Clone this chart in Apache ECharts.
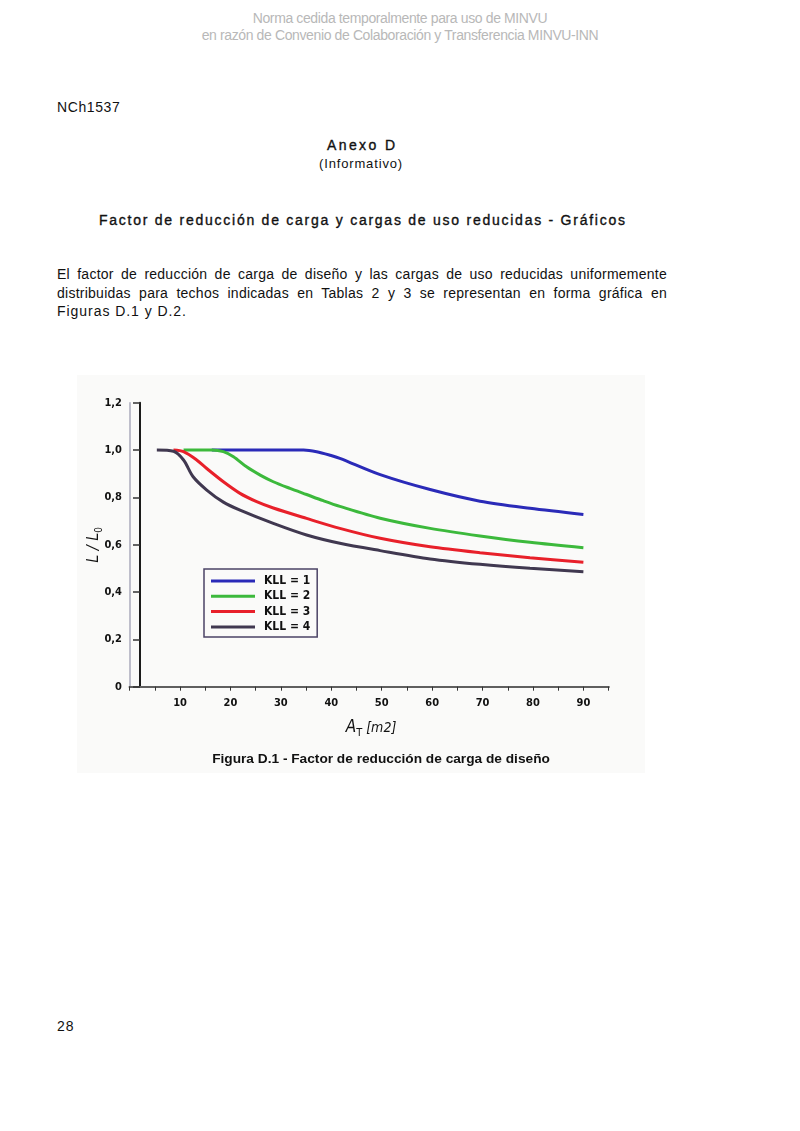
<!DOCTYPE html>
<html>
<head>
<meta charset="utf-8">
<script src="https://cdn.jsdelivr.net/npm/echarts@6/dist/echarts.min.js"></script>
<style>
  html, body { margin: 0; padding: 0; background: #fff; }
  body { width: 800px; height: 1131px; position: relative; overflow: hidden; font-family: "Liberation Sans", Arial, sans-serif; color: #111; }
  .t { position: absolute; white-space: nowrap; }
  .wm { left: 0; width: 800px; text-align: center; color: #b8b8b8; font-size: 14px; letter-spacing: -0.38px; }
  .med { -webkit-text-stroke: 0.35px #111; }
  .pl { position: absolute; left: 57px; width: 610px; font-size: 14px; letter-spacing: 0.95px; white-space: nowrap; }
  .just { letter-spacing: 0.25px; text-align: justify; text-align-last: justify; white-space: normal; }
  #chart { position: absolute; left: 0; top: 0; width: 800px; height: 1131px; }
</style>
</head>
<body>
<div class="t wm" style="top:10px">Norma cedida temporalmente para uso de MINVU</div>
<div class="t wm" style="top:27px">en razón de Convenio de Colaboración y Transferencia MINVU-INN</div>
<div class="t" style="left:57px; top:99px; font-size:14px; letter-spacing:0.6px;">NCh1537</div>
<div class="t med" style="left:327px; top:137px; font-size:14px; letter-spacing:2.4px;">Anexo D</div>
<div class="t" style="left:319px; top:156px; font-size:13px; letter-spacing:0.85px;">(Informativo)</div>
<div class="t med" style="left:99px; top:212px; font-size:14px; letter-spacing:1.75px;">Factor de reducción de carga y cargas de uso reducidas - Gráficos</div>
<div class="pl just" style="top:266px">El factor de reducción de carga de diseño y las cargas de uso reducidas uniformemente</div>
<div class="pl just" style="top:285px">distribuidas para techos indicadas en Tablas 2 y 3 se representan en forma gráfica en</div>
<div class="pl" style="top:303px">Figuras D.1 y D.2.</div>
<div class="t" style="left:57px; top:1018px; font-size:14px; letter-spacing:1px;">28</div>
<div id="chart"></div>
<script>
// values: [A_T (m2), L/L0]
const kll1 = [[16.3, 1.0], [34.5, 1.0], [37.1, 0.993], [39.8, 0.978], [41.7, 0.965], [49.7, 0.896], [59.6, 0.833], [69.5, 0.784], [79.4, 0.754], [90, 0.728]];
const kll2 = [[10.7, 1.0], [16.3, 1.0], [18.6, 0.993], [20.6, 0.972], [23.2, 0.929], [25.9, 0.894], [28.5, 0.866], [31.8, 0.838], [35.1, 0.812], [38.4, 0.786], [41.7, 0.762], [49.7, 0.712], [59.6, 0.669], [69.5, 0.637], [79.4, 0.61], [90, 0.587]];
const kll3 = [[8.7, 1.0], [10.7, 0.993], [13.3, 0.958], [15.3, 0.922], [18.6, 0.866], [21.9, 0.817], [25.2, 0.782], [28.5, 0.755], [35.1, 0.711], [41.7, 0.669], [49.7, 0.627], [59.6, 0.591], [69.5, 0.566], [79.4, 0.545], [90, 0.526]];
const kll4 = [[5.4, 1.0], [8.7, 0.995], [10.7, 0.958], [12.6, 0.887], [15.3, 0.831], [18.6, 0.78], [21.9, 0.746], [28.5, 0.69], [35.1, 0.641], [41.7, 0.606], [49.7, 0.575], [59.6, 0.54], [69.5, 0.517], [79.4, 0.5], [90, 0.486]];

const seriesNames = ["KLL = 1", "KLL = 2", "KLL = 3", "KLL = 4"];
const seriesColors = ["#2a2ab8", "#3cb93c", "#e8202a", "#403850"];
const seriesData = [kll1, kll2, kll3, kll4];

const figFont = "'DejaVu Sans Condensed', 'Liberation Sans Narrow', sans-serif";

const chart = echarts.init(document.getElementById("chart"), null, { renderer: "canvas" });

const option = {
  animation: false,
  grid: { left: 129.6, top: 402.7, width: 479, height: 284 },
  legend: {
    orient: "vertical",
    left: 204,
    top: 569,
    data: seriesNames,
    icon: "rect",
    itemWidth: 44,
    itemHeight: 3,
    itemGap: 3.3,
    padding: [6, 7, 4, 7],
    borderColor: "#4b4366",
    borderWidth: 1.5,
    textStyle: { fontFamily: figFont, fontWeight: "bold", fontSize: 12, color: "#111", lineHeight: 12, padding: [0, 0, 0, 4] },
  },
  graphic: [
    { type: "rect", z: -10, shape: { x: 77, y: 375, width: 568, height: 398 }, style: { fill: "#fafaf9" } },
    {
      type: "text", x: 94, y: 545, rotation: Math.PI / 2, z: 10,
      style: {
        x: 0, y: 0,
        text: "{a|L / L}{b|0}",
        align: "center", verticalAlign: "middle",
        rich: {
          a: { fontFamily: figFont, fontStyle: "italic", fontSize: 16, lineHeight: 20, fill: "#111", verticalAlign: "middle" },
          b: { fontFamily: figFont, fontSize: 10, lineHeight: 20, fill: "#111", verticalAlign: "bottom" },
        },
      },
    },
    {
      type: "text", z: 10,
      style: {
        x: 371, y: 728,
        text: "{a|A}{b|T}{c| [m2]}",
        align: "center", verticalAlign: "middle",
        rich: {
          a: { fontFamily: figFont, fontStyle: "italic", fontSize: 17, lineHeight: 22, fill: "#111", verticalAlign: "middle" },
          b: { fontFamily: figFont, fontSize: 11, lineHeight: 22, fill: "#111", verticalAlign: "bottom" },
          c: { fontFamily: figFont, fontStyle: "italic", fontSize: 14, lineHeight: 22, fill: "#111", verticalAlign: "middle" },
        },
      },
    },
    {
      type: "text", z: 10,
      style: {
        x: 381, y: 759,
        text: "Figura D.1 - Factor de reducción de carga de diseño",
        align: "center", verticalAlign: "middle",
        font: "bold 13.7px 'Liberation Sans', Arial, sans-serif",
        fill: "#111",
      },
    },
  ],
  xAxis: [
    {
      type: "value",
      min: 0,
      max: 95,
      interval: 5,
      splitLine: { show: false },
      axisLine: { lineStyle: { color: "#1a1a1a", width: 2 } },
      axisTick: { length: 4, lineStyle: { color: "#333", width: 1 } },
      axisLabel: {
        margin: 11,
        fontFamily: figFont,
        fontWeight: "bold",
        fontSize: 11,
        color: "#111",
        formatter: (v) => (v > 0 && v < 95 && v % 10 === 0 ? String(v) : ""),
      },
    },
    {
      type: "value",
      position: "top",
      min: 0,
      max: 95,
      splitLine: { show: false },
      axisLine: { show: true, lineStyle: { color: "#777", width: 1.5 } },
      axisTick: { show: false },
      axisLabel: { show: false },
    },
  ],
  yAxis: [
    {
      type: "value",
      min: 0,
      max: 1.2,
      interval: 0.2,
      offset: -10.4,
      splitLine: { show: false },
      axisLine: { show: true, lineStyle: { color: "#1a1a1a", width: 2 } },
      axisTick: { show: true, length: 7, lineStyle: { color: "#333", width: 1.5 } },
      axisLabel: {
        margin: 18,
        fontFamily: figFont,
        fontWeight: "bold",
        fontSize: 11,
        color: "#111",
        formatter: (v) => (v === 0 ? "0" : v.toFixed(1).replace(".", ",")),
      },
    },
    {
      type: "value",
      position: "right",
      min: 0,
      max: 1.2,
      splitLine: { show: false },
      axisLine: { show: true, lineStyle: { color: "#aab", width: 1.5 } },
      axisTick: { show: false },
      axisLabel: { show: false },
    },
  ],
  series: seriesData.map((d, i) => ({
    name: seriesNames[i],
    type: "line",
    data: d,
    smooth: 0.3,
    showSymbol: false,
    symbol: "none",
    color: seriesColors[i],
    lineStyle: { width: 3, color: seriesColors[i] },
  })),
};

chart.setOption(option);
</script>
</body>
</html>
